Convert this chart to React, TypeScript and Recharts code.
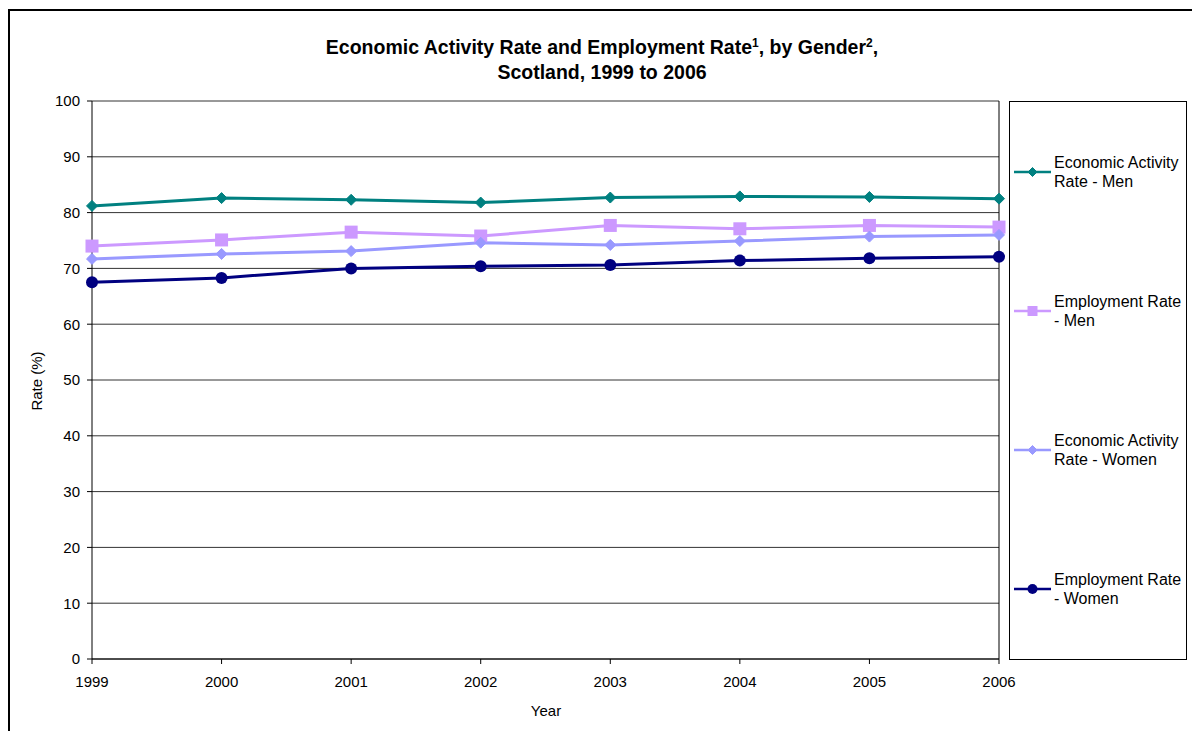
import { LineChart, Line, XAxis, YAxis, CartesianGrid, ReferenceLine } from "recharts";

const FONT = '"Liberation Sans", Arial, sans-serif';

const years = ["1999", "2000", "2001", "2002", "2003", "2004", "2005", "2006"];
const econMen = [81.2, 82.6, 82.3, 81.8, 82.7, 82.9, 82.8, 82.5];
const empMen = [74.0, 75.1, 76.5, 75.8, 77.7, 77.1, 77.7, 77.4];
const econWomen = [71.7, 72.6, 73.1, 74.6, 74.2, 74.9, 75.7, 76.0];
const empWomen = [67.5, 68.3, 70.0, 70.4, 70.6, 71.4, 71.8, 72.1];
const yTicks = [0, 10, 20, 30, 40, 50, 60, 70, 80, 90, 100];

type Shape = "diamond" | "square" | "circle";

const series: { key: string; name: string[]; color: string; shape: Shape; size: number; legendSize: number }[] = [
  { key: "econMen", name: ["Economic Activity", "Rate - Men"], color: "#008080", shape: "diamond", size: 5.5, legendSize: 4.5 },
  { key: "empMen", name: ["Employment Rate", "- Men"], color: "#CC99FF", shape: "square", size: 6.5, legendSize: 5 },
  { key: "econWomen", name: ["Economic Activity", "Rate - Women"], color: "#9999FF", shape: "diamond", size: 5.5, legendSize: 4.5 },
  { key: "empWomen", name: ["Employment Rate", "- Women"], color: "#000080", shape: "circle", size: 6, legendSize: 5 },
];

const data = years.map((year, i) => ({
  year,
  econMen: econMen[i],
  empMen: empMen[i],
  econWomen: econWomen[i],
  empWomen: empWomen[i],
}));

function Marker({ cx, cy, shape, size, color }: { cx: number; cy: number; shape: Shape; size: number; color: string }) {
  if (shape === "diamond") {
    return (
      <polygon
        points={`${cx},${cy - size} ${cx + size},${cy} ${cx},${cy + size} ${cx - size},${cy}`}
        fill={color}
        stroke={color}
      />
    );
  }
  if (shape === "square") {
    return <rect x={cx - size} y={cy - size} width={size * 2} height={size * 2} fill={color} />;
  }
  return <circle cx={cx} cy={cy} r={size} fill={color} />;
}

function makeDot(s: (typeof series)[number]) {
  return (props: any) => {
    const { cx, cy, index } = props;
    if (cx == null || cy == null) return <g key={`${s.key}-${index}`} />;
    return (
      <g key={`${s.key}-${index}`}>
        <Marker cx={cx} cy={cy} shape={s.shape} size={s.size} color={s.color} />
      </g>
    );
  };
}

function LegendBox() {
  return (
    <div
      style={{
        position: "absolute",
        left: 1009,
        top: 101,
        width: 176,
        height: 557,
        border: "1px solid #000",
        display: "flex",
        flexDirection: "column",
        justifyContent: "space-around",
        fontFamily: FONT,
        fontSize: 16,
        color: "#000",
      }}
    >
      {series.map((s) => (
        <div key={s.key} style={{ display: "flex", alignItems: "center" }}>
          <svg width={44} height={20} style={{ flex: "none" }}>
            <line x1={4} y1={10} x2={41} y2={10} stroke={s.color} strokeWidth={2.5} />
            <Marker cx={22.5} cy={10} shape={s.shape} size={s.legendSize} color={s.color} />
          </svg>
          <div style={{ lineHeight: "19px", whiteSpace: "nowrap" }}>
            {s.name[0]}
            <br />
            {s.name[1]}
          </div>
        </div>
      ))}
    </div>
  );
}

export default function App() {
  return (
    <div
      style={{
        position: "absolute",
        left: 0,
        top: 0,
        width: 1192,
        height: 731,
        overflow: "hidden",
        background: "#fff",
        fontFamily: FONT,
      }}
    >
      <div
        style={{
          position: "absolute",
          left: 8,
          top: 9,
          width: 1220,
          height: 760,
          border: "2px solid #000",
        }}
      />
      <div
        style={{
          position: "absolute",
          left: 9,
          width: 1186,
          top: 35,
          textAlign: "center",
          fontWeight: "bold",
          fontSize: 19.5,
          lineHeight: "25px",
          color: "#000",
        }}
      >
        Economic Activity Rate and Employment Rate<sup style={{ fontSize: 12, lineHeight: 0 }}>1</sup>, by Gender
        <sup style={{ fontSize: 12, lineHeight: 0 }}>2</sup>,
        <br />
        Scotland, 1999 to 2006
      </div>
      <div style={{ position: "absolute", left: 0, top: 0 }}>
        <LineChart width={1192} height={731} data={data} margin={{ top: 101, right: 193, bottom: 42, left: 52 }}>
          <CartesianGrid vertical={false} stroke="#333" strokeWidth={1} />
          <XAxis
            dataKey="year"
            stroke="#000"
            tick={{ fill: "#000", fontSize: 15, fontFamily: FONT }}
            tickSize={5}
            tickMargin={12}
            height={30}
            interval={0}
          />
          <YAxis
            domain={[0, 100]}
            ticks={yTicks}
            interval={0}
            stroke="#000"
            tick={{ fill: "#000", fontSize: 15, fontFamily: FONT }}
            tickSize={5}
            tickMargin={7}
            width={40}
          />
          <ReferenceLine x="2006" stroke="#000" strokeWidth={1} />
          {series.map((s) => (
            <Line
              key={s.key}
              dataKey={s.key}
              type="linear"
              stroke={s.color}
              strokeWidth={3}
              dot={makeDot(s)}
              activeDot={false}
              isAnimationActive={false}
            />
          ))}
          <text x={36} y={381} transform="rotate(-90 36 381)" textAnchor="middle" dominantBaseline="central" fontSize={15} fontFamily={FONT} fill="#000">
            Rate (%)
          </text>
          <text x={546} y={710} textAnchor="middle" dominantBaseline="central" fontSize={15} fontFamily={FONT} fill="#000">
            Year
          </text>
        </LineChart>
      </div>
      <LegendBox />
    </div>
  );
}
